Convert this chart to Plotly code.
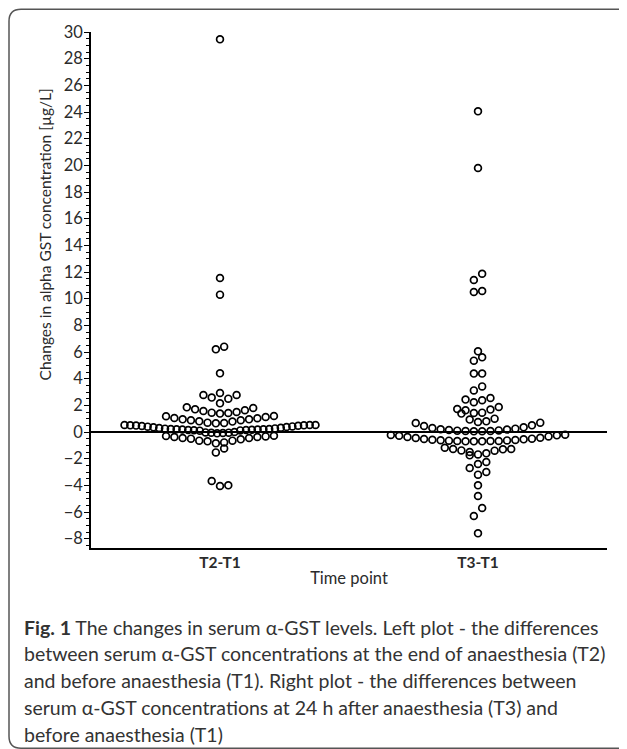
import plotly.graph_objects as go

# ---------------- data ----------------
categories = ["T2-T1", "T3-T1"]

t2_t1 = [
    29.45, 11.55, 10.3, 6.4, 6.2, 4.4,
    2.93, 2.78, 2.78, 2.58, 2.5, 2.15,
    1.38, 1.43, 1.45, 1.5, 1.58, 1.63, 1.7, 1.8, 1.85,
    0.65, 0.68, 0.7, 0.78, 0.8, 0.88, 0.88, 0.95, 0.95, 1.03, 1.05, 1.13, 1.18, 1.2,
    -0.1, -0.08, -0.06, -0.05, -0.03, 0.0,
    0.1, 0.12, 0.13, 0.15, 0.15, 0.17, 0.18, 0.18, 0.2, 0.2, 0.22, 0.22,
    0.25, 0.27, 0.3, 0.32, 0.35, 0.37, 0.4, 0.42,
    0.45, 0.47, 0.48, 0.5, 0.5, 0.52, 0.53, 0.53,
    -0.28, -0.3, -0.33, -0.38, -0.38, -0.45, -0.45, -0.5, -0.55, -0.65, -0.65, -0.7, -0.78, -0.85,
    -1.23, -1.53,
    -3.67, -4.0, -4.05,
]

t3_t1 = [
    24.05, 19.8, 11.87, 11.4, 10.57, 10.5,
    6.05, 5.6, 5.35, 4.38, 4.38, 3.42, 3.12,
    2.23, 2.38, 2.43, 2.55,
    1.38, 1.42, 1.45, 1.63, 1.68, 1.72, 1.88,
    0.68, 0.7, 0.75, 0.8, 0.93, 1.0,
    0.05, 0.06, 0.08, 0.08, 0.1, 0.12, 0.15, 0.18, 0.2, 0.25, 0.3, 0.35, 0.45, 0.5,
    -0.2, -0.22, -0.25, -0.28, -0.33, -0.38, -0.43, -0.45, -0.5, -0.52, -0.55,
    -0.58, -0.6, -0.62, -0.63, -0.65, -0.67, -0.68, -0.68, -0.7, -0.7, -0.7,
    -1.18, -1.27, -1.27, -1.3, -1.38, -1.4, -1.5, -1.6, -1.68, -1.75,
    -2.25, -2.4, -2.7, -3.0, -3.2, -4.0, -4.8, -5.7, -6.3, -7.6,
]

y_ticks = list(range(-8, 31, 2))

# ---------------- layout constants (pixels, page has an 8px body margin) ----------------
OFF = 8
W, H = 627 - OFF, 749 - OFF
L, R, T = 91 - OFF, 20, 31.5 - OFF
B = H - (547.7 - OFF)
PW, PH = W - L - R, H - T - B
X_RANGE = [-0.5, 1.5]
Y_RANGE = [-8.7, 30]

ROW_H = 0.65                      # value band grouped into one row
SLOT = 8.3 / PW * (X_RANGE[1] - X_RANGE[0])      # horizontal step between dots
MAX_W = 191 / PW * (X_RANGE[1] - X_RANGE[0])     # widest allowed row


def swarm(values):
    """Group sorted values into rows and lay each row out centre-outwards."""
    vals = sorted(values)
    rows, cur = [], []
    for v in vals:
        if cur and v - cur[0] > ROW_H + 1e-9:
            rows.append(cur)
            cur = []
        cur.append(v)
    if cur:
        rows.append(cur)
    xs, ys = [], []
    for row in rows:
        n = len(row)
        step = SLOT if (n - 1) * SLOT <= MAX_W else MAX_W / (n - 1)
        if n % 2:
            slots = [0]
            k = 1
            while len(slots) < n:
                slots += [k, -k]
                k += 1
        else:
            slots = []
            k = 0.5
            while len(slots) < n:
                slots += [-k, k]
                k += 1
        slots = slots[:n]
        for v, s in zip(row, slots):
            xs.append(s * step)
            ys.append(v)
    return xs, ys


fig = go.Figure()
for i, (name, vals) in enumerate(zip(categories, [t2_t1, t3_t1])):
    dx, yy = swarm(vals)
    fig.add_trace(go.Scatter(
        x=[i + d for d in dx], y=yy, mode="markers", name=name,
        marker=dict(symbol="circle-open", size=6.8, color="black",
                    line=dict(width=1.7)),
        hoverinfo="y", showlegend=False,
    ))

FONT = "Lato"
TXT = "#2b2b2b"

fig.update_layout(
    width=W, height=H,
    margin=dict(l=L, r=R, t=T, b=B, pad=0),
    paper_bgcolor="white", plot_bgcolor="white",
    font=dict(family=FONT, color=TXT),
    xaxis=dict(
        range=X_RANGE, tickvals=[0, 1],
        ticktext=[f"<b>{c}</b>" for c in categories],
        tickfont=dict(size=15.5, color=TXT),
        showline=True, linecolor="black", linewidth=1.5,
        ticks="", showgrid=False, zeroline=False,
        title=dict(text="Time point", font=dict(size=16.5, color=TXT), standoff=2),
    ),
    yaxis=dict(
        range=Y_RANGE, tickvals=y_ticks,
        tickfont=dict(size=16.5, color=TXT),
        showline=True, linecolor="black", linewidth=1.5,
        ticks="outside", ticklen=5, tickwidth=1.3, tickcolor="black",
        ticklabelstandoff=-2,
        minor=dict(dtick=0.5, ticks="outside", ticklen=3, tickwidth=1, tickcolor="black"),
        showgrid=False,
        zeroline=True, zerolinecolor="black", zerolinewidth=1.6,
    ),
)


def px2paper(x=None, y=None):
    """Reference-window pixel -> paper coordinate."""
    out = []
    if x is not None:
        out.append((x - OFF - L) / PW)
    if y is not None:
        out.append((H - B - (y - OFF)) / PH)
    return out[0] if len(out) == 1 else out


# y-axis title (sits above the plot centre in the reference)
fig.add_annotation(
    text="Changes in alpha GST concentration [µg/L]",
    xref="paper", yref="paper", x=px2paper(x=45), y=px2paper(y=234),
    textangle=-90, showarrow=False, xanchor="center", yanchor="middle",
    font=dict(family=FONT, size=15.5, color=TXT),
)

# rounded frame around figure + caption
left, top, right, bottom, rad = 9, 8.8, 650, 748, 12
x0, x1 = px2paper(x=left), px2paper(x=right)
y0, y1 = px2paper(y=top), px2paper(y=bottom)
rx, ry = rad / PW, rad / PH
path = (f"M {x1},{y0} L {x0 + rx},{y0} Q {x0},{y0} {x0},{y0 - ry} "
        f"L {x0},{y1 + ry} Q {x0},{y1} {x0 + rx},{y1} L {x1},{y1}")
fig.add_shape(type="path", path=path, xref="paper", yref="paper",
              line=dict(color="#555555", width=1.5))

caption_lines = [
    "<b>Fig. 1</b> The changes in serum α-GST levels. Left plot - the differences",
    "between serum α-GST concentrations at the end of anaesthesia (T2)",
    "and before anaesthesia (T1). Right plot - the differences between",
    "serum α-GST concentrations at 24 h after anaesthesia (T3) and",
    "before anaesthesia (T1)",
]
for k, line in enumerate(caption_lines):
    fig.add_annotation(
        text=line, xref="paper", yref="paper",
        x=px2paper(x=22), y=px2paper(y=627 + k * 26.7),
        xanchor="left", yanchor="middle", showarrow=False,
        font=dict(family=FONT, size=19.5, color="#333333"),
    )

fig.write_html("out.html")
